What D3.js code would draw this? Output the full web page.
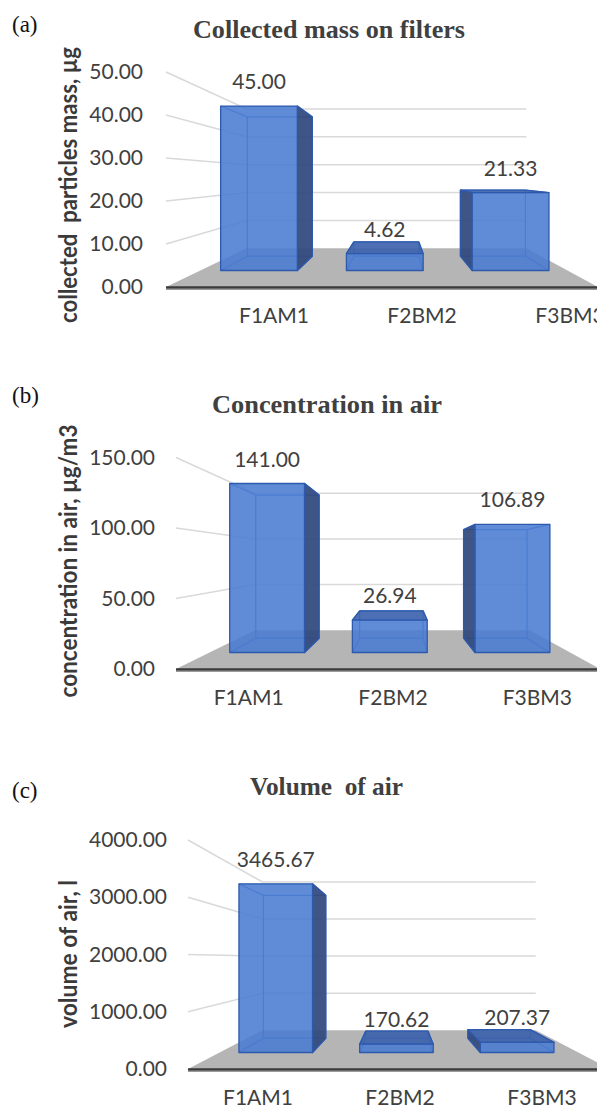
<!DOCTYPE html>
<html lang="en">
<head>
<meta charset="UTF-8">
<title>Filters</title>
<script src="https://d3js.org/d3.v7.min.js"></script>
<style>
  body { margin: 0; background: #fff; }
  svg { display: block; }
</style>
</head>
<body>
<div id="chart"></div>
<script>

// data
var categories = ["F1AM1", "F2BM2", "F3BM3"];
var massValues = [45.00, 4.62, 21.33];
var concValues = [141.00, 26.94, 106.89];
var volumeValues = [3465.67, 170.62, 207.37];
var massTicks = [0, 10, 20, 30, 40, 50];
var concTicks = [0, 50, 100, 150];
var volumeTicks = [0, 1000, 2000, 3000, 4000];

// one layout entry per panel (pixel placement only)
var panels = [
  {letter: "(a)", letterY: 32, title: "Collected mass on filters", titleX: 193, titleY: 38, titleLen: 272,
   yTitle: "collected  particles mass, µg", yTitleY: 185, yTitleLen: 276,
   values: massValues, ticks: massTicks, yMax: 50, yF: 287, yTop: 72,
   xL: 166, xR: 598, vx: 395, band: [161, 605], labelShift: 39, tickPad: 23},
  {letter: "(b)", letterY: 403, title: "Concentration in air", titleX: 212, titleY: 413, titleLen: 230,
   yTitle: "concentration in air, µg/m3", yTitleY: 561, yTitleLen: 273,
   values: concValues, ticks: concTicks, yMax: 150, yF: 669, yTop: 457.5,
   xL: 176, xR: 600, vx: 400, band: [171.5, 604.5], labelShift: 5, tickPad: 21},
  {letter: "(c)", letterY: 798, title: "Volume  of air", titleX: 250, titleY: 795, titleLen: 153,
   yTitle: "volume of air, l", yTitleY: 954, yTitleLen: 148,
   values: volumeValues, ticks: volumeTicks, yMax: 4000, yF: 1069, yTop: 840,
   xL: 188, xR: 610, vx: 399, band: [183, 609], labelShift: 4, tickPad: 21}
];

// perspective: depth factors (1 = front of floor)
var eyeDrop = 110, sBack = 0.648, sFront = 0.85, sRear = 0.72;
var fmt = d3.format(".2f");

var svg = d3.select("#chart").append("svg")
  .attr("width", 597)
  .attr("height", 1109);

svg.append("rect").attr("width", 597).attr("height", 1109).attr("fill", "#fff");

function pts(a) { return a.map(function(p) { return p.join(","); }).join(" "); }

panels.forEach(function(p) {
  var vy = p.yF - eyeDrop;
  function proj(xf, yf, s) { return [p.vx + (xf - p.vx) * s, vy + (yf - vy) * s]; }

  var x = d3.scaleBand().domain(categories).range(p.band).paddingInner(0.39).paddingOuter(0.195);
  var y = d3.scaleLinear().domain([0, p.yMax]).range([p.yF, p.yTop]);
  var g = svg.append("g");

  // panel letter + title
  g.append("text")
    .attr("x", 12).attr("y", p.letterY)
    .attr("font-family", "Liberation Serif, Times New Roman, serif")
    .attr("font-size", 23).attr("fill", "#111")
    .text(p.letter);
  g.append("text")
    .attr("x", p.titleX).attr("y", p.titleY)
    .attr("font-family", "Liberation Serif, Times New Roman, serif")
    .attr("font-weight", "bold").attr("font-size", 26).attr("fill", "#404040")
    .attr("textLength", p.titleLen).attr("lengthAdjust", "spacingAndGlyphs")
    .style("white-space", "pre")
    .text(p.title);

  // floor
  var y0 = y(0);
  g.append("polygon")
    .attr("points", pts([proj(p.xL, y0, 1), proj(p.xR, y0, 1), proj(p.xR, y0, sBack), proj(p.xL, y0, sBack)]))
    .attr("fill", "#b5b5b5");
  g.append("line")
    .attr("x1", p.xL).attr("x2", p.xR).attr("y1", p.yF + 2.5).attr("y2", p.yF + 2.5)
    .attr("stroke", "#9a9a9a").attr("stroke-width", 1);
  g.append("line")
    .attr("x1", p.xL).attr("x2", p.xR).attr("y1", p.yF + 0.5).attr("y2", p.yF + 0.5)
    .attr("stroke", "#3a3a3a").attr("stroke-width", 2.5);

  // gridlines on side wall and back wall
  p.ticks.filter(function(t) { return t > 0; }).forEach(function(t) {
    var a = [p.xL, y(t)], b = proj(p.xL, y(t), sBack), c = proj(p.xR, y(t), sBack);
    g.append("polyline")
      .attr("points", pts([a, b, c]))
      .attr("fill", "none").attr("stroke", "#d9d9d9").attr("stroke-width", 1.5);
  });

  // bars as see-through boxes
  p.values.forEach(function(v, i) {
    var xl = x(categories[i]), xr = xl + x.bandwidth(), yt = y(v);
    var fTL = proj(xl, yt, sFront), fTR = proj(xr, yt, sFront),
        fBL = proj(xl, y0, sFront), fBR = proj(xr, y0, sFront),
        bTL = proj(xl, yt, sRear), bTR = proj(xr, yt, sRear),
        bBL = proj(xl, y0, sRear), bBR = proj(xr, y0, sRear);
    var bar = g.append("g");

    // all edges, seen faintly through the faces
    [[bTL, bTR], [bTR, bBR], [bBR, bBL], [bBL, bTL],
     [fTL, bTL], [fTR, bTR], [fBL, bBL], [fBR, bBR]].forEach(function(e) {
      bar.append("line")
        .attr("x1", e[0][0]).attr("y1", e[0][1]).attr("x2", e[1][0]).attr("y2", e[1][1])
        .attr("stroke", "#3a6cc4").attr("stroke-width", 1.2).attr("opacity", 0.85);
    });

    var faces = [];
    if (xr < p.vx) faces.push({p: [fTR, bTR, bBR, fBR], c: "rgb(48,72,124)", o: 0.93});
    if (xl > p.vx) faces.push({p: [bTL, fTL, fBL, bBL], c: "rgb(48,72,124)", o: 0.93});
    if (yt > vy) faces.push({p: [bTL, bTR, fTR, fTL], c: "rgb(58,96,172)", o: 0.9});
    faces.push({p: [fTL, fTR, fBR, fBL], c: "rgb(73,123,209)", o: 0.88});

    faces.forEach(function(f) {
      bar.append("polygon")
        .attr("points", pts(f.p))
        .attr("fill", f.c).attr("fill-opacity", f.o)
        .attr("stroke", "#2e5aad").attr("stroke-width", 1.3).attr("stroke-linejoin", "round");
    });

    // data label above the front top edge
    g.append("text")
      .attr("x", (fTL[0] + fTR[0]) / 2)
      .attr("y", fTL[1] - 17)
      .attr("text-anchor", "middle")
      .attr("font-family", "Lato, sans-serif").attr("font-size", 21).attr("fill", "#404040")
      .text(fmt(v));
  });

  // value axis (labels only)
  var ya = g.append("g")
    .attr("transform", "translate(" + p.xL + ",0)")
    .call(d3.axisLeft(y).tickValues(p.ticks).tickFormat(fmt).tickSize(0).tickPadding(p.tickPad));
  ya.select(".domain").remove();
  ya.attr("font-family", "Lato, sans-serif").attr("font-size", 21).attr("color", "#404040");

  // category axis
  var xa = g.append("g")
    .attr("transform", "translate(" + p.labelShift + "," + p.yF + ")")
    .call(d3.axisBottom(x).tickSize(0).tickPadding(21));
  xa.select(".domain").remove();
  xa.attr("font-family", "Lato, sans-serif").attr("font-size", 21).attr("color", "#404040");

  // rotated value-axis title
  g.append("text")
    .attr("transform", "translate(77," + p.yTitleY + ") rotate(-90)")
    .attr("text-anchor", "middle")
    .attr("font-family", "Lato, sans-serif").attr("font-weight", "bold")
    .attr("font-size", 24).attr("fill", "#3a3a3a")
    .attr("textLength", p.yTitleLen).attr("lengthAdjust", "spacingAndGlyphs")
    .style("white-space", "pre")
    .text(p.yTitle);
});

</script>
</body>
</html>
